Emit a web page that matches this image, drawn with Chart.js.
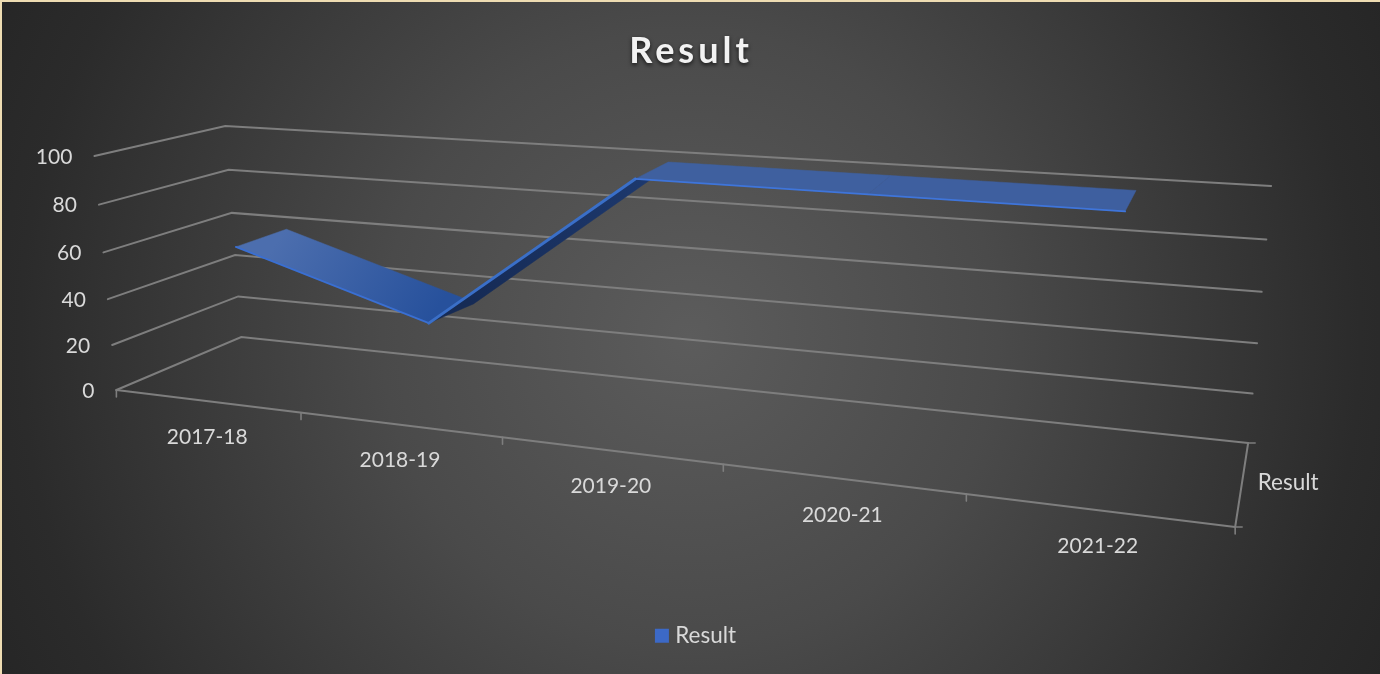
<!DOCTYPE html>
<html>
<head>
<meta charset="utf-8">
<title>Result</title>
<script src="https://cdn.jsdelivr.net/npm/chart.js@4"></script>
<style>
  html, body { margin: 0; height: 100%; background: #eedcb2; overflow: hidden; }
  #chart {
    position: absolute; left: 2px; top: 2px;
    background: radial-gradient(circle 770px at 688px 335px, #5c5c5c 0%, #4a4a4a 40%, #2b2b2b 87%, #262626 100%);
  }
</style>
</head>
<body>
<canvas id="chart" width="1378" height="672"></canvas>
<script>
const categories = ['2017-18', '2018-19', '2019-20', '2020-21', '2021-22'];
const results = [60, 35, 100, 100, 100];
const valueTicks = [0, 20, 40, 60, 80, 100];
const seriesName = 'Result';

const OFFSET = 2; // canvas sits inside the cream border
const X_TRIM = 1.5; // measured against the reference
const GRID = '#7e7e7e';
const TEXT = '#d9d9d9';
const FONT = 'Lato, "Open Sans", sans-serif';
const ribbonFront = 0.335, ribbonBack = 0.76;

// corners of the 3d box as they land on the picture
const corners = {
  frontLeft: { low: [115, 390], high: [93, 156] },
  backLeft: { low: [240, 337], high: [224, 126] },
  backRight: { low: [1248, 443], high: [1271, 186] },
  frontRight: { low: [1235, 527], high: [1260, 238] }
};

const foreshorten = (f, k) => f / (f + k * (1 - f));
const mix = (a, b, f) => a + (b - a) * f;

// along = 0..1 over the categories, value = 0..100, depth = 0 front .. 1 back
function project(along, value, depth) {
  const t = foreshorten(along, 1.265);
  const s = foreshorten(value / 100, 1.05);
  const at = i => {
    const left = c => mix(c.low[i], c.high[i], s);
    const front = mix(left(corners.frontLeft), left(corners.frontRight), t);
    const back = mix(left(corners.backLeft), left(corners.backRight), t);
    return mix(front, back, depth);
  };
  return { x: at(0), y: at(1) };
}

const catPoint = (i, depth) => project((i + 0.5) / categories.length, results[i], depth);
const nudge = (p, dx, dy) => ({ x: p.x + dx, y: p.y + dy });

const datasets = [];
function addLine(label, data, color, width) {
  datasets.push({
    label, data, showLine: true, fill: false, borderColor: color, borderWidth: width,
    pointRadius: 0, borderCapStyle: 'round', clip: false, order: -datasets.length
  });
}
function addFace(label, from, to, color, drop = 0) {
  const data = [
    catPoint(from, ribbonFront), catPoint(to, ribbonFront),
    nudge(catPoint(to, ribbonBack), drop, drop), nudge(catPoint(from, ribbonBack), drop, drop),
    catPoint(from, ribbonFront)
  ];
  datasets.push({
    label, data, showLine: true, fill: 'shape', backgroundColor: color, borderColor: color, borderWidth: 0.5,
    pointRadius: 0, clip: false, order: -datasets.length
  });
}

// wall and floor gridlines
valueTicks.forEach(v => {
  addLine('grid ' + v, [project(0, v, 0), project(0, v, 1), project(1, v, 1)], GRID, 2);
});
// floor edges and tick marks
addLine('category axis', [project(0, 0, 0), project(1, 0, 0)], GRID, 2);
addLine('depth axis', [project(1, 0, 0), project(1, 0, 1)], GRID, 2);
for (let i = 0; i <= categories.length; i++) {
  const p = project(i / categories.length, 0, 0);
  addLine('tick ' + i, [p, nudge(p, 0, 7)], GRID, 1.6);
}
[0, 1].forEach(d => {
  const p = project(1, 0, d);
  addLine('depth tick ' + d, [p, nudge(p, 7, 0)], GRID, 1.6);
});

// ribbon
const ctx = document.getElementById('chart').getContext('2d');
const grad = (a, b, c1, c2) => {
  const g = ctx.createLinearGradient(a.x - OFFSET, a.y - OFFSET, b.x - OFFSET, b.y - OFFSET);
  g.addColorStop(0, c1);
  g.addColorStop(1, c2);
  return g;
};
addFace('top 1', 0, 1, grad(catPoint(0, ribbonBack), catPoint(1, ribbonFront), '#4c6eae', '#27519c'));
addFace('under 2', 1, 2, grad(catPoint(1, ribbonBack), catPoint(2, ribbonBack), '#162b55', '#1e3a70'), 3);
addFace('top 3', 2, 3, '#3f609f');
addFace('top 4', 3, 4, '#3e5f9f');
addLine('front edge', [catPoint(0, ribbonFront), catPoint(1, ribbonFront)], '#3a6fd2', 1.8);
addLine('front edge rise', [catPoint(1, ribbonFront), catPoint(2, ribbonFront)], '#3a6fc8', 3);
addLine('front edge flat', [catPoint(2, ribbonFront), catPoint(3, ribbonFront), catPoint(4, ribbonFront)], '#3f75da', 1.8);

// labels sit on the projected axes
const axisLabels = {
  id: 'axisLabels',
  afterDatasetsDraw(chart) {
    const { x, y } = chart.scales;
    const c = chart.ctx;
    const put = (text, p, dx, dy, align) => {
      c.textAlign = align;
      c.fillText(text, x.getPixelForValue(p.x) + dx, y.getPixelForValue(p.y) + dy);
    };
    c.save();
    c.font = '21px ' + FONT;
    c.fillStyle = TEXT;
    c.textBaseline = 'middle';
    valueTicks.forEach(v => put(String(v), project(0, v, 0), -22, 1, 'right'));
    categories.forEach((name, i) => put(name, project((i + 0.5) / categories.length, 0, 0), 0.5, 36, 'center'));
    c.font = '22.5px ' + FONT;
    put(seriesName, project(1, 0, 0.5), 16, -2, 'left');
    c.restore();
  }
};

const chart = new Chart(ctx, {
  type: 'scatter',
  data: { datasets },
  plugins: [axisLabels],
  options: {
    responsive: false,
    animation: false,
    events: [],
    layout: { padding: { left: 14, bottom: 17 } },
    scales: {
      x: { type: 'linear', display: false, min: 0, max: 1380 },
      y: { type: 'linear', display: false, reverse: true, min: 0, max: 674 }
    },
    plugins: {
      tooltip: { enabled: false },
      title: {
        display: true,
        text: seriesName,
        color: '#f2f2f2',
        font: { family: FONT, size: 36, weight: 'bold', lineHeight: 1.2 },
        padding: { top: 28, bottom: 18 }
      },
      legend: {
        position: 'bottom',
        onClick: null,
        labels: {
          // small box with a thick outline keeps the text close, as in the original
          boxWidth: 4,
          boxHeight: 4,
          color: TEXT,
          font: { family: FONT, size: 22.5 },
          generateLabels: () => [{ text: seriesName, fillStyle: '#3c69c6', lineWidth: 10, strokeStyle: '#3c69c6', fontColor: TEXT }]
        }
      }
    }
  }
});

// title gets Excel's letter spacing and soft shadow
const block = chart.titleBlock;
const drawTitle = block.draw.bind(block);
block.draw = () => {
  const c = chart.ctx;
  c.save();
  c.translate(-7, 0); // undo the left padding that centres the legend
  c.letterSpacing = '4px';
  c.shadowColor = 'rgba(0,0,0,0.7)';
  c.shadowBlur = 4;
  c.shadowOffsetY = 2;
  drawTitle();
  c.restore();
};

// line the pixel-sized scales up with the area the title and legend leave over
const area = chart.chartArea;
chart.options.scales.x.min = area.left + OFFSET - X_TRIM;
chart.options.scales.x.max = area.right + OFFSET - X_TRIM;
chart.options.scales.y.min = area.top + OFFSET;
chart.options.scales.y.max = area.bottom + OFFSET;
chart.update('none');
</script>
</body>
</html>
